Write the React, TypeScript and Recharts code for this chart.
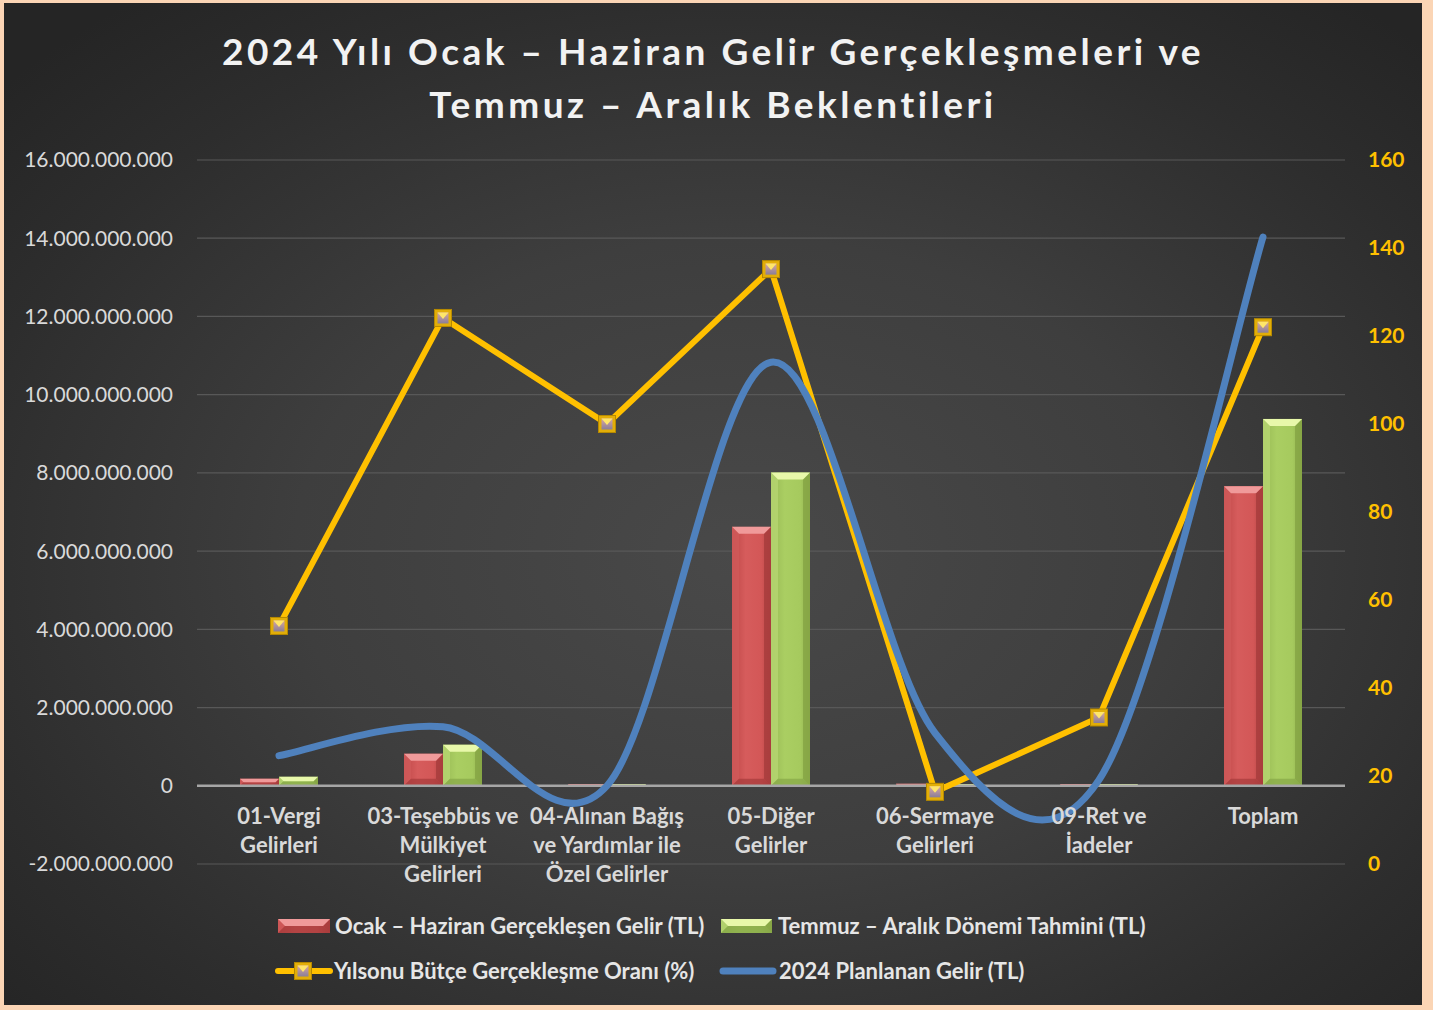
import React from "react";
import {
    ComposedChart,
    Bar,
    Line,
    XAxis,
    YAxis,
    CartesianGrid,
    ReferenceLine
} from "recharts";

document.body.style.margin = "0";

const categories = [
    "01-Vergi\nGelirleri",
    "03-Teşebbüs ve\nMülkiyet\nGelirleri",
    "04-Alınan Bağış\nve Yardımlar ile\nÖzel Gelirler",
    "05-Diğer\nGelirler",
    "06-Sermaye\nGelirleri",
    "09-Ret ve\nİadeler",
    "Toplam"
];

// TL
const ocakHaziran = [180e6, 820e6, 5e6, 6620e6, 50e6, 2e6, 7660e6];
const temmuzAralik = [230e6, 1050e6, 8e6, 8010e6, 10e6, 1e6, 9380e6];
const planlananGelir = [770e6, 1510e6, 0, 10830e6, 1350e6, 150e6, 14030e6];
// %
const gerceklesmeOrani = [54.1, 124.1, 100, 135.2, 16.4, 33.3, 122];

const leftTicks = [-2e9, 0, 2e9, 4e9, 6e9, 8e9, 10e9, 12e9, 14e9, 16e9];
const rightTicks = [0, 20, 40, 60, 80, 100, 120, 140, 160];

const legendLabels = [
    "Ocak – Haziran Gerçekleşen Gelir (TL)",
    "Temmuz – Aralık Dönemi Tahmini (TL)",
    "Yılsonu Bütçe Gerçekleşme Oranı (%)",
    "2024 Planlanan Gelir (TL)"
];

const chartData = categories.map((name, i) => ({
    name,
    ocak: ocakHaziran[i],
    temmuz: temmuzAralik[i],
    oran: gerceklesmeOrani[i],
    plan: planlananGelir[i]
}));

const FONT = "Lato, 'Open Sans', sans-serif";

const palettes: any = {
    red: { top: "#F09A9A", left: "#CF5A5A", right: "#A63C3C", bottom: "#A53B3B" },
    green: { top: "#E8F8AA", left: "#B6D672", right: "#84A444", bottom: "#86A747" }
};

const fmtTL = (v: number) => String(v).replace(/\B(?=(\d{3})+(?!\d))/g, ".");

// excel style smoothed line (catmull-rom through the points)
const excelSmooth = (context: any) => {
    let pts: number[][] = [];
    return {
        areaStart() {},
        areaEnd() {},
        lineStart() { pts = []; },
        point(x: number, y: number) { pts.push([+x, +y]); },
        lineEnd() {
            if (!pts.length) return;
            context.moveTo(pts[0][0], pts[0][1]);
            for (let i = 0; i < pts.length - 1; i++) {
                const p0 = pts[i - 1] || pts[i];
                const p1 = pts[i];
                const p2 = pts[i + 1];
                const p3 = pts[i + 2] || p2;
                context.bezierCurveTo(
                    p1[0] + (p2[0] - p0[0]) / 6, p1[1] + (p2[1] - p0[1]) / 6,
                    p2[0] - (p3[0] - p1[0]) / 6, p2[1] - (p3[1] - p1[1]) / 6,
                    p2[0], p2[1]
                );
            }
        }
    };
};

const BevelBar = ({ x, y, width, height, palette }: any) => {
    if (width == null || y == null) return null;
    const c = palettes[palette];
    const h = Math.max(height || 0, 1.5);
    const top = y + (height || 0) - h;
    const b = Math.min(7, h / 2, width / 2);
    const r = x + width;
    const btm = top + h;
    return (
        <g>
            <rect x={x} y={top} width={width} height={h} fill={`url(#${palette}Body)`} />
            <polygon points={`${x},${top} ${x + b},${top + b} ${x + b},${btm - b} ${x},${btm}`} fill={c.left} opacity={0.8} />
            <polygon points={`${r},${top} ${r - b},${top + b} ${r - b},${btm - b} ${r},${btm}`} fill={c.right} opacity={0.8} />
            <polygon points={`${x},${btm} ${x + b},${btm - b} ${r - b},${btm - b} ${r},${btm}`} fill={c.bottom} opacity={0.7} />
            <polygon points={`${x},${top} ${r},${top} ${r - b},${top + b} ${x + b},${top + b}`} fill={c.top} />
        </g>
    );
};

const Marker = ({ cx, cy }: any) => {
    if (cx == null || cy == null) return null;
    const s = 17;
    return (
        <g>
            <rect x={cx - s / 2} y={cy - s / 2} width={s} height={s} fill="#E2AE08" stroke="#B78A00" strokeWidth={1} />
            <rect x={cx - s / 2 + 3} y={cy - s / 2 + 3} width={s - 6} height={s - 6} fill="url(#markerInner)" />
            <polygon points={`${cx - 5.5},${cy - 5.5} ${cx + 5.5},${cy - 5.5} ${cx},${cy + 1}`} fill="#FFE66A" />
        </g>
    );
};

const CategoryTick = ({ x, y, payload }: any) => {
    const lines = String(payload.value).split("\n");
    return (
        <text x={x} y={y - 40} textAnchor="middle" fill="#D9D9D9" fontFamily={FONT} fontWeight={700} fontSize={22}>
            {lines.map((l, i) => (
                <tspan key={i} x={x} dy={i === 0 ? 0 : 29}>{l}</tspan>
            ))}
        </text>
    );
};

const Defs = () => (
    <defs>
        <linearGradient id="redBody" x1="0" y1="0" x2="1" y2="0">
            <stop offset="0%" stopColor="#BF4848" />
            <stop offset="35%" stopColor="#D65C5C" />
            <stop offset="75%" stopColor="#D35757" />
            <stop offset="100%" stopColor="#B44242" />
        </linearGradient>
        <linearGradient id="greenBody" x1="0" y1="0" x2="1" y2="0">
            <stop offset="0%" stopColor="#98BA55" />
            <stop offset="35%" stopColor="#AACE62" />
            <stop offset="75%" stopColor="#A6CA5E" />
            <stop offset="100%" stopColor="#8FAF4D" />
        </linearGradient>
        <linearGradient id="markerInner" x1="0" y1="0" x2="0" y2="1">
            <stop offset="0%" stopColor="#D8A6A0" />
            <stop offset="100%" stopColor="#8A7E98" />
        </linearGradient>
    </defs>
);

const Legend = () => {
    const txt = { fill: "#E6E6E6", fontFamily: FONT, fontWeight: 700, fontSize: 22 } as any;
    return (
        <svg width={1433} height={1010} style={{ position: "absolute", left: 0, top: 0, pointerEvents: "none" }}>
            <Defs />
            <BevelBar x={278} y={919} width={52} height={14} palette="red" />
            <text x={335} y={934} {...txt}>{legendLabels[0]}</text>
            <BevelBar x={721} y={919} width={51} height={14} palette="green" />
            <text x={778} y={934} {...txt}>{legendLabels[1]}</text>

            <line x1={278} y1={971} x2={330} y2={971} stroke="#FFC000" strokeWidth={6} strokeLinecap="round" />
            <Marker cx={303} cy={971} />
            <text x={334} y={979} {...txt}>{legendLabels[2]}</text>
            <line x1={723} y1={971} x2={773} y2={971} stroke="#4F81BD" strokeWidth={7} strokeLinecap="round" />
            <text x={779} y={979} {...txt}>{legendLabels[3]}</text>
        </svg>
    );
};

const App = () => {
    return (
        <div style={{ position: "relative", width: 1433, height: 1010, background: "#FBD5B5", overflow: "hidden" }}>
            <div style={{
                position: "absolute",
                left: 4,
                top: 3,
                width: 1418,
                height: 1002,
                background: "radial-gradient(ellipse 70% 70% at 52% 55%, #494949 0%, #3e3e3e 45%, #2d2d2d 80%, #252525 100%)"
            }}>
                <div style={{
                    position: "absolute",
                    left: 0,
                    top: 21,
                    width: 1418,
                    textAlign: "center",
                    color: "#F2F2F2",
                    fontFamily: FONT,
                    fontWeight: 700,
                    fontSize: 37,
                    lineHeight: "53px",
                    letterSpacing: 3.5
                }}>
                    2024 Yılı Ocak – Haziran Gelir Gerçekleşmeleri ve<br />
                    Temmuz – Aralık Beklentileri
                </div>

                <div style={{ position: "absolute", left: 0, top: 0 }}>
                    <ComposedChart
                        width={1418}
                        height={1002}
                        data={chartData}
                        margin={{ top: 157, right: 0, bottom: 0, left: 0 }}
                        barGap={0}
                    >
                        <CartesianGrid yAxisId="left" vertical={false} stroke="#585858" strokeWidth={1.2} />
                        <XAxis
                            dataKey="name"
                            height={141}
                            axisLine={false}
                            tickLine={false}
                            tickSize={0}
                            tickMargin={0}
                            interval={0}
                            tick={<CategoryTick />}
                        />
                        <YAxis
                            yAxisId="left"
                            width={193}
                            domain={[-2e9, 16e9]}
                            ticks={leftTicks}
                            allowDataOverflow
                            axisLine={false}
                            tickLine={false}
                            tickSize={0}
                            tickMargin={24}
                            tickFormatter={fmtTL}
                            tick={{ fill: "#D9D9D9", fontSize: 21, fontFamily: FONT }}
                        />
                        <YAxis
                            yAxisId="right"
                            orientation="right"
                            width={77}
                            domain={[0, 160]}
                            ticks={rightTicks}
                            axisLine={false}
                            tickLine={false}
                            tickSize={0}
                            tickMargin={23}
                            tick={{ fill: "#FFC000", fontSize: 21, fontFamily: FONT, fontWeight: 700 }}
                        />
                        <ReferenceLine yAxisId="left" y={0} stroke="#A6A6A6" strokeWidth={2.5} />
                        <Bar
                            yAxisId="left"
                            dataKey="ocak"
                            barSize={39}
                            isAnimationActive={false}
                            shape={(p: any) => <BevelBar {...p} palette="red" />}
                        />
                        <Bar
                            yAxisId="left"
                            dataKey="temmuz"
                            barSize={39}
                            isAnimationActive={false}
                            shape={(p: any) => <BevelBar {...p} palette="green" />}
                        />
                        <Line
                            yAxisId="right"
                            dataKey="oran"
                            type="linear"
                            stroke="#FFC000"
                            strokeWidth={6}
                            dot={(p: any) => <Marker key={`m${p.index}`} cx={p.cx} cy={p.cy} />}
                            activeDot={false}
                            isAnimationActive={false}
                        />
                        <Line
                            yAxisId="left"
                            dataKey="plan"
                            type={excelSmooth as any}
                            stroke="#4F81BD"
                            strokeWidth={7}
                            strokeLinecap="round"
                            dot={false}
                            activeDot={false}
                            isAnimationActive={false}
                        />
                    </ComposedChart>
                </div>
            </div>
            <Legend />
        </div>
    );
};

export default App;
